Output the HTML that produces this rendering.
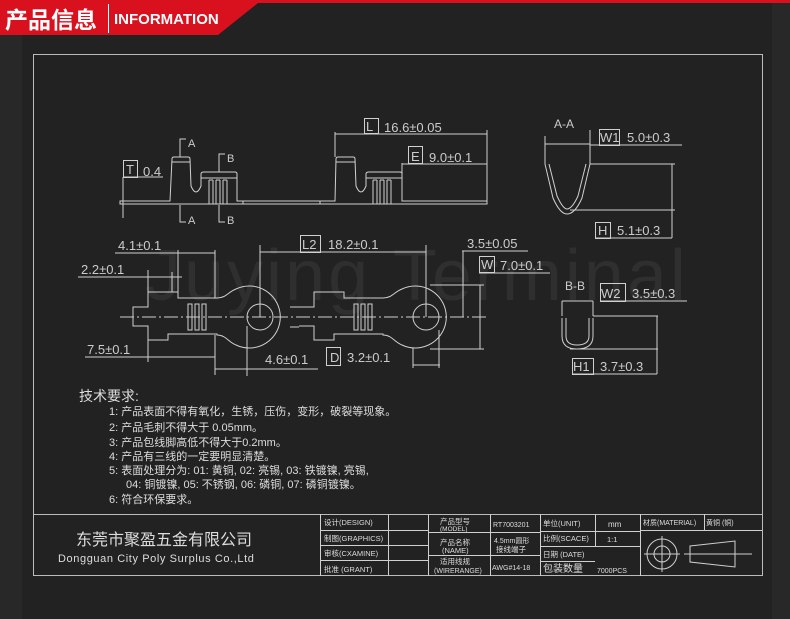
<!DOCTYPE html>
<html><head><meta charset="utf-8"><style>
html,body{margin:0;padding:0;background:#222;}
svg{display:block}
text{font-family:"Liberation Sans","Noto Sans CJK SC",sans-serif;fill:#ddd}
.c{font-family:"Liberation Sans","Noto Sans CJK SC",sans-serif}
</style></head><body>
<svg width="790" height="619" viewBox="0 0 790 619" xmlns="http://www.w3.org/2000/svg">
<rect width="790" height="619" fill="#222"/>
<rect x="0" y="35" width="22" height="584" fill="#282828"/>
<rect x="772" y="3" width="18" height="616" fill="#282828"/>
<polygon points="0,0 790,0 790,3 258,3 218,35 0,35" fill="#d9101e"/>
<text x="5" y="28" font-size="23" font-weight="bold" fill="#fff" style="fill:#fff" class="c">产品信息</text>
<line x1="108.5" y1="4" x2="108.5" y2="33" stroke="#fff" stroke-width="1"/>
<text x="114" y="24" font-size="15" font-weight="bold" style="fill:#fff">INFORMATION</text>

<text x="145" y="300" font-size="72" style="fill:#2f2f2f" letter-spacing="3">Juying  Terminal</text>

<g fill="none" stroke="#d0d0d0" stroke-width="1">
<rect x="33.5" y="54.5" width="729" height="521" stroke="#bbb"/>
<line x1="33.5" y1="514.5" x2="762.5" y2="514.5" stroke="#bbb"/>

<path d="M120,201 H170 L172,159 Q172,157 174,157 H188 Q190,157 190,159 L191,186 Q196,198 201,186 L201,174 Q201,172 204,172 H235 Q237,172 237,174 V201 H243 V204 H120 Z"/>
<line x1="201" y1="178" x2="237" y2="178"/>
<line x1="172" y1="162" x2="190" y2="162"/>
<path d="M209,180 V204 M213,180 V204 M216,180 V204 M220,180 V204 M223,180 V204 M227,180 V204 M209,180 H213 M216,180 H220 M223,180 H227"/>
<path d="M243,201 H320 V204 H243 M320,201 H335 L336,159 Q336,157 338,157 H353 Q355,157 355,159 L356,186 Q361,198 366,186 L366,174 Q366,172 369,172 H400 Q402,172 402,174 V201 M320,204 H487 V163 M402,163 V201 H487"/>
<line x1="366" y1="178" x2="402" y2="178"/>
<line x1="336" y1="162" x2="355" y2="162"/>
<path d="M373,180 V204 M377,180 V204 M380,180 V204 M384,180 V204 M387,180 V204 M391,180 V204 M373,180 H377 M380,180 H384 M387,180 H391"/>
<path d="M335,157 V132 M487,130 V201 M335,134 H487"/>
<rect x="364.5" y="118.5" width="14" height="15"/>
<path d="M402,164 H487"/>
<rect x="408.5" y="146.5" width="14" height="17"/>
<rect x="123.5" y="160.5" width="14" height="17"/>
<path d="M123,177 H163 M123,177 V218"/>
<path d="M180,157 V139 H186 M180,205 V215 V222 H186 M219,172 V154 H225 M219,205 V222 H225"/>

<line x1="120" y1="317" x2="486" y2="317" stroke-dasharray="14,3,2,3"/>
<path d="M133,307 H148 V292 H178 V298 H217 C226,298 228,292 236,289 A31,31 0 1 1 236,345 C228,342 226,335 217,335 V334 H168 V340 H148 V326 H133 Z"/>
<circle cx="260" cy="317" r="13"/>
<path d="M188,304 h4 v26 h-4 z M195,304 h4 v26 h-4 z M202,304 h4 v26 h-4 z"/>
<path d="M290,307 H299 M290,327 H299"/>
<path d="M299,307 H314 V292 H344 V298 H383 C392,298 394,292 402,289 A31,31 0 1 1 402,345 C394,342 392,335 383,335 V334 H334 V340 H314 V326 H299"/>
<circle cx="426" cy="317" r="13"/>
<path d="M354,304 h4 v26 h-4 z M361,304 h4 v26 h-4 z M368,304 h4 v26 h-4 z"/>
<path d="M115,253 H215 M178,250 V298 M215,250 V298"/>
<path d="M78,277 H182 M148,270 V292 M172,272 V292"/>
<path d="M260,245 V317 M426,245 V317 M260,252 H426"/>
<rect x="300.5" y="235.5" width="20" height="17"/>
<path d="M462,251 H528 M463,251 V317 M430,285 H484 M430,349 H484 M480,285 V349"/>
<rect x="479.5" y="256.5" width="15" height="16"/>
<path d="M479,273 H550"/>
<path d="M85,357 H215 M148,340 V362 M215,335 V375 M215,369 H318 M247,326 V376"/>
<rect x="326.5" y="347.5" width="14" height="18"/>
<path d="M413,365 H440 M413,348 V368 M439,330 V368"/>

<path d="M545,164 L553,198 Q560,214 567,214 Q575,214 582,198 L590,164 M549,164 L557,196 Q563,209 567,209 Q572,209 578,196 L586,164"/>
<path d="M545,164 V136 M590,164 V130 M545,144 H590 M590,145 H682"/>
<rect x="599.5" y="129.5" width="20" height="16"/>
<path d="M590,164 H675 M570,210 H675 M672,164 V238 M595,238 H672"/>
<rect x="595.5" y="222.5" width="15" height="16"/>
<path d="M562,318 V336 Q562,349 577,349 Q593,349 593,336 V318 M566,318 V336 Q566,345 577,345 Q589,345 589,336 V318"/>
<path d="M562,316 V301 M593,316 V301 M562,301 H593 M600,301 H687"/>
<rect x="600.5" y="283.5" width="25" height="18"/>
<path d="M593,316 H658 M570,349 H658 M657,316 V374 M572,374 H657"/>
<rect x="572.5" y="358.5" width="21" height="16"/>

<path d="M320.5,514 V576 M388.5,514 V576 M428.5,514 V576 M490.5,514 V576 M540.5,514 V576 M595.5,514 V546 M640.5,514 V576 M704.5,514 V530"/>
<path d="M320,530.5 H428 M320,545.5 H428 M320,560.5 H428 M428,532.5 H540 M428,555.5 H540 M540,531.5 H640 M540,546.5 H640 M540,561.5 H595 M640,530.5 H762"/>
<circle cx="662" cy="554" r="15"/><circle cx="662" cy="554" r="8"/>
<path d="M644,554 H680 M662,536 V572 M684,554 H752 M690,546 L735,541 V567 L690,562 Z"/>
</g>

<g font-size="13" style="fill:#ccc">
<text x="384" y="132" style="fill:#ccc">16.6±0.05</text>
<text x="429" y="162" style="fill:#ccc">9.0±0.1</text>
<text x="143" y="176" style="fill:#ccc">0.4</text>
<text x="118" y="250" style="fill:#ccc">4.1±0.1</text>
<text x="81" y="274" style="fill:#ccc">2.2±0.1</text>
<text x="328" y="249" style="fill:#ccc">18.2±0.1</text>
<text x="467" y="248" style="fill:#ccc">3.5±0.05</text>
<text x="500" y="270" style="fill:#ccc">7.0±0.1</text>
<text x="87" y="354" style="fill:#ccc">7.5±0.1</text>
<text x="265" y="364" style="fill:#ccc">4.6±0.1</text>
<text x="347" y="362" style="fill:#ccc">3.2±0.1</text>
<text x="627" y="142" style="fill:#ccc">5.0±0.3</text>
<text x="617" y="235" style="fill:#ccc">5.1±0.3</text>
<text x="632" y="298" style="fill:#ccc">3.5±0.3</text>
<text x="600" y="371" style="fill:#ccc">3.7±0.3</text>
<text x="366" y="131" style="fill:#ccc">L</text>
<text x="411" y="161" style="fill:#ccc">E</text>
<text x="126" y="174" style="fill:#ccc">T</text>
<text x="302" y="249" style="fill:#ccc">L2</text>
<text x="481" y="269" style="fill:#ccc">W</text>
<text x="330" y="362" style="fill:#ccc">D</text>
<text x="600" y="142" style="fill:#ccc">W1</text>
<text x="598" y="235" style="fill:#ccc">H</text>
<text x="601" y="298" style="fill:#ccc">W2</text>
<text x="573" y="371" style="fill:#ccc">H1</text>
<text x="188" y="147" font-size="11" style="fill:#ccc">A</text>
<text x="188" y="224" font-size="11" style="fill:#ccc">A</text>
<text x="227" y="162" font-size="11" style="fill:#ccc">B</text>
<text x="227" y="224" font-size="11" style="fill:#ccc">B</text>
<text x="554" y="128" font-size="12" style="fill:#ccc">A-A</text>
<text x="565" y="290" font-size="12" style="fill:#ccc">B-B</text>
</g>

<g class="c" style="fill:#ddd">
<text x="79" y="401" font-size="14" style="fill:#ddd">技术要求:</text>
<g font-size="11">
<text x="109" y="415" style="fill:#ddd">1: 产品表面不得有氧化，生锈，压伤，变形，破裂等现象。</text>
<text x="109" y="431" style="fill:#ddd">2: 产品毛刺不得大于 0.05mm。</text>
<text x="109" y="446" style="fill:#ddd">3: 产品包线脚高低不得大于0.2mm。</text>
<text x="109" y="460" style="fill:#ddd">4: 产品有三线的一定要明显清楚。</text>
<text x="109" y="474" style="fill:#ddd">5: 表面处理分为: 01: 黄铜, 02: 亮锡, 03: 铁镀镍, 亮锡,</text>
<text x="126" y="488" style="fill:#ddd">04: 铜镀镍, 05: 不锈钢, 06: 磷铜, 07: 磷铜镀镍。</text>
<text x="109" y="503" style="fill:#ddd">6: 符合环保要求。</text>
</g>
</g>

<text x="76" y="545" font-size="16" style="fill:#ddd">东莞市聚盈五金有限公司</text>
<text x="58" y="562" font-size="11" letter-spacing="0.6" style="fill:#ddd">Dongguan City Poly Surplus Co.,Ltd</text>
<g font-size="7.5" style="fill:#ddd">
<text x="324" y="525" style="fill:#ddd">设计(DESIGN)</text>
<text x="324" y="541" style="fill:#ddd">制图(GRAPHICS)</text>
<text x="324" y="556" style="fill:#ddd">审核(CXAMINE)</text>
<text x="324" y="572" style="fill:#ddd">批准 (GRANT)</text>
<text x="440" y="524" style="fill:#ddd">产品型号</text>
<text x="440" y="531" font-size="6.5" style="fill:#ddd">(MODEL)</text>
<text x="440" y="545" style="fill:#ddd">产品名称</text>
<text x="442" y="553" style="fill:#ddd">(NAME)</text>
<text x="440" y="564" style="fill:#ddd">适用线规</text>
<text x="434" y="573" font-size="7" style="fill:#ddd">(WIRERANGE)</text>
<text x="493" y="527" font-size="7" style="fill:#ddd">RT7003201</text>
<text x="494" y="543" font-size="7" style="fill:#ddd">4.5mm圆形</text>
<text x="496" y="552" style="fill:#ddd">接线端子</text>
<text x="492" y="570" font-size="7" style="fill:#ddd">AWG#14-18</text>
<text x="543" y="526" style="fill:#ddd">单位(UNIT)</text>
<text x="543" y="541" style="fill:#ddd">比例(SCACE)</text>
<text x="543" y="557" style="fill:#ddd">日期 (DATE)</text>
<text x="543" y="572" font-size="10" style="fill:#ddd">包装数量</text>
<text x="608" y="527" font-size="8" style="fill:#ddd">mm</text>
<text x="607" y="542" style="fill:#ddd">1:1</text>
<text x="597" y="573" font-size="7" style="fill:#ddd">7000PCS</text>
<text x="643" y="525" font-size="7" style="fill:#ddd">材质(MATERIAL)</text>
<text x="706" y="525" font-size="7" style="fill:#ddd">黄铜 (铜)</text>
</g>
</svg>
</body></html>
